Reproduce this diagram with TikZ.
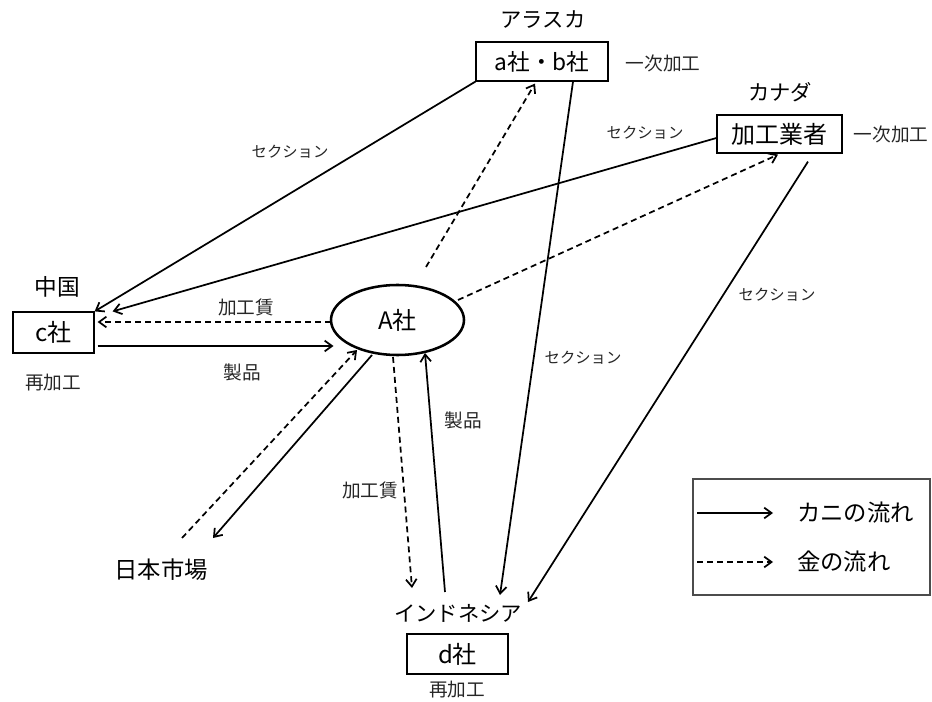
\documentclass[tikz,border=0pt]{standalone}
\usepackage{fontspec}
\newfontfamily\jp{Noto Sans CJK JP}
\usetikzlibrary{arrows.meta,shapes.geometric,calc}
\begin{document}
\begin{tikzpicture}[x=0.75pt,y=-0.75pt,
  every node/.style={font=\jp, inner sep=0pt},
  box/.style={draw, line width=0.9pt, font=\jp\fontsize{17}{20}\selectfont},
  head/.style={font=\jp\fontsize{16}{19}\selectfont},
  lbl/.style={font=\jp\fontsize{14}{16}\selectfont, text=black!85},
  sec/.style={font=\jp\fontsize{11.5}{14}\selectfont, text=black!85},
  crab/.style={line width=1.3pt, -{Straight Barb[length=5.5pt,width=8pt]}},
  money/.style={line width=1.3pt, dash pattern=on 4.5pt off 3pt, -{Straight Barb[length=5.5pt,width=8pt]}}
]
\useasboundingbox (0,0) rectangle (932,702);
% nodes
\node[box, minimum width=99pt, minimum height=29.25pt] (ab) at (542,61.5) {a社・b社};
\node[box, minimum width=93.75pt, minimum height=28.5pt, font=\jp\fontsize{18}{20}\selectfont] (ca) at (779.5,134) {加工業者};
\node[box, minimum width=60.75pt, minimum height=30.75pt, font=\jp\fontsize{18}{20}\selectfont] (c) at (53.5,332.5) {c社};
\node[box, minimum width=75.75pt, minimum height=30pt, font=\jp\fontsize{18}{20}\selectfont] (d) at (457.5,654) {d社};
\node[draw, ellipse, line width=1.9pt, minimum width=99.75pt, minimum height=52.5pt, font=\jp\fontsize{18}{20}\selectfont] (A) at (397.5,320) {A社};
% headings
\node[head] (alaska) at (543,20) {アラスカ};
\node[head] (canada) at (780,92) {カナダ};
\node[head, font=\jp\fontsize{17}{20}\selectfont] (china) at (57,287) {中国};
\node[head] (indo) at (458,613) {インドネシア};
\node[head, font=\jp\fontsize{17.5}{20}\selectfont] (japan) at (161,570) {日本市場};
% side notes
\node[lbl] (n1) at (663,63) {一次加工};
\node[lbl] (n2) at (891,134) {一次加工};
\node[lbl] (n3) at (53,383) {再加工};
\node[lbl] (n4) at (457,690) {再加工};
% connector labels
\node[sec] (s1) at (290,152) {セクション};
\node[sec] (s2) at (645,133) {セクション};
\node[sec] (s3) at (777,295) {セクション};
\node[sec] (s4) at (583,358) {セクション};
\node[lbl] (k1) at (246,307) {加工賃};
\node[lbl] (p1) at (242,372) {製品};
\node[lbl] (p2) at (463,420) {製品};
\node[lbl] (k2) at (370,490) {加工賃};
% connectors
\draw[crab] (ab.south west) -- (c.north east);
\draw[crab] ($(ca.west)+(0,4)$) -- ($(c.north east)+(18,0)$);
\draw[money] ($(A.center)+(-67,2)$) -- ($(c.east)+(3,-10.5)$);
\draw[crab] ($(c.east)+(3,13.5)$) -- ($(A.center)+(-64,26)$);
\draw[money] ($(A.center)+(28.5,-53)$) -- ($(ab.south)+(-7,2)$);
\draw[money] ($(A.center)+(60.5,-20)$) -- ($(ca.south)+(-1.5,1)$);
\draw[crab] ($(ca.south)+(28.5,8)$) -- ($(indo.center)+(70,-11)$);
\draw[crab] ($(ab.south)+(31,0)$) -- ($(indo.center)+(42,-18)$);
\draw[money] ($(A.center)+(-4.5,37)$) -- ($(indo.center)+(-46,-25)$);
\draw[crab] ($(indo.center)+(-13,-21)$) -- ($(A.center)+(27.5,33)$);
\draw[money] ($(japan.center)+(21,-32)$) -- ($(A.center)+(-40.5,30)$);
\draw[crab] ($(A.center)+(-25.5,35)$) -- ($(japan.center)+(52,-32)$);
% legend
\draw[line width=0.9pt, draw=black!70] (693,479) rectangle (930,595);
\coordinate (l1a) at (697,513);
\coordinate (l1b) at (773,513);
\coordinate (l2a) at (697,562);
\coordinate (l2b) at (773,562);
\draw[crab] (l1a) -- (l1b);
\draw[money] (l2a) -- (l2b);
\node[anchor=west, font=\jp\fontsize{17.5}{20}\selectfont] (t1) at (797,513) {カニの流れ};
\node[anchor=west, font=\jp\fontsize{17.5}{20}\selectfont] (t2) at (797,562) {金の流れ};
\end{tikzpicture}
\end{document}
